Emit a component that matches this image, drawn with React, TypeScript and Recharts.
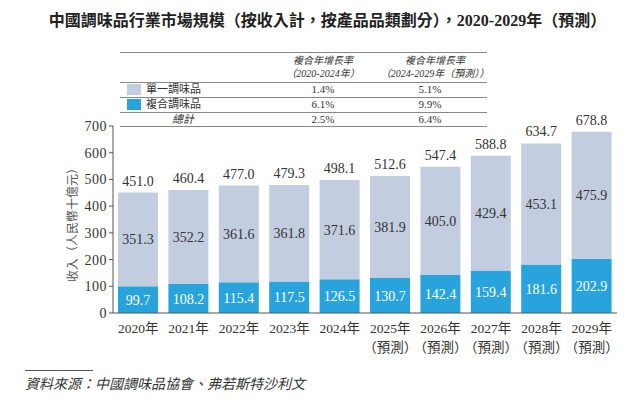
import React from 'react';
import { BarChart, Bar, XAxis, YAxis, LabelList } from 'recharts';

const years = ['2020年', '2021年', '2022年', '2023年', '2024年', '2025年', '2026年', '2027年', '2028年', '2029年'];
const forecast = [false, false, false, false, false, true, true, true, true, true];
const compound = [99.7, 108.2, 115.4, 117.5, 126.5, 130.7, 142.4, 159.4, 181.6, 202.9];
const single = [351.3, 352.2, 361.6, 361.8, 371.6, 381.9, 405.0, 429.4, 453.1, 475.9];
const totals = [451.0, 460.4, 477.0, 479.3, 498.1, 512.6, 547.4, 588.8, 634.7, 678.8];
const yTicks = [0, 100, 200, 300, 400, 500, 600, 700];

const tableRows = [
  { name: '單一調味品', a: '1.4%', b: '5.1%', color: '#c3cde0' },
  { name: '複合調味品', a: '6.1%', b: '9.9%', color: '#29a3dc' },
];
const totalRow = { name: '總計', a: '2.5%', b: '6.4%' };

const data = years.map((y, i) => ({
  year: y,
  forecast: forecast[i],
  compound: compound[i],
  single: single[i],
  total: totals[i],
}));

const SERIF = '"Liberation Serif", "Noto Sans CJK TC", serif';
const LIGHT = '#c3cde0';
const BLUE = '#29a3dc';

const XTick = (props: any) => {
  const { x, y, payload, index } = props;
  return (
    <g>
      <text x={x} y={y + 12} textAnchor="middle" fontSize={13.5} fill="#333" fontFamily={SERIF}>
        {payload.value}
      </text>
      {forecast[index] ? (
        <text x={x} y={y + 31} textAnchor="middle" fontSize={13.5} fill="#333" fontFamily={SERIF}>
          （預測）
        </text>
      ) : null}
    </g>
  );
};

const TotalLabel = (props: any) => {
  const { x, y, width, index } = props;
  return (
    <text x={x + width / 2} y={y - 7} textAnchor="middle" fontSize={14} fill="#333" fontFamily={SERIF}>
      {totals[index].toFixed(1)}
    </text>
  );
};

const CenterLabel = (color: string) => (props: any) => {
  const { x, y, width, height, value } = props;
  return (
    <text x={x + width / 2} y={y + height / 2 + 5} textAnchor="middle" fontSize={14} fill={color} fontFamily={SERIF}>
      {Number(value).toFixed(1)}
    </text>
  );
};

const lineStyle = (top: number): React.CSSProperties => ({
  position: 'absolute', left: 120, width: 367, top, height: 0, borderTop: '1px solid #888',
});

const cell: React.CSSProperties = { position: 'absolute', textAlign: 'center', fontSize: 11, color: '#333', lineHeight: '13px' };

export default function App() {
  return (
    <div style={{ position: 'absolute', left: 0, top: 0, width: 640, height: 398, background: '#fff', fontFamily: SERIF }}>
      <div style={{ position: 'absolute', left: 0, top: 7, width: 655, textAlign: 'center', fontSize: 16, fontWeight: 'bold', color: '#222', whiteSpace: 'nowrap' }}>
        中國調味品行業市場規模（按收入計，按產品品類劃分），2020-2029年（預測）
      </div>
      <div style={{ position: 'absolute', left: 0, top: 0 }}>
        <BarChart width={640} height={398} data={data} margin={{ top: 126, right: 23, bottom: 55, left: 73 }} barCategoryGap={5}>
          <XAxis dataKey="year" height={30} tick={<XTick />} tickLine={false} axisLine={{ stroke: '#555' }} interval={0} />
          <YAxis width={40} domain={[0, 700]} ticks={yTicks} tick={{ fontSize: 14, fill: '#333', fontFamily: SERIF, letterSpacing: 0.5 }} tickLine={{ stroke: '#555' }} tickSize={4} axisLine={{ stroke: '#555' }} />
          <Bar dataKey="compound" stackId="a" fill={BLUE} isAnimationActive={false}>
            <LabelList dataKey="compound" content={CenterLabel('#fff')} />
          </Bar>
          <Bar dataKey="single" stackId="a" fill={LIGHT} isAnimationActive={false}>
            <LabelList dataKey="single" content={CenterLabel('#333')} />
            <LabelList dataKey="total" content={<TotalLabel />} />
          </Bar>
        </BarChart>
      </div>
      <div style={{ position: 'absolute', left: 72, top: 222, transform: 'translate(-50%, -50%) rotate(-90deg)', fontSize: 12, color: '#555', whiteSpace: 'nowrap' }}>
        收入（人民幣十億元）
      </div>
      {/* table */}
      <div style={lineStyle(52)} />
      <div style={lineStyle(82)} />
      <div style={lineStyle(97)} />
      <div style={lineStyle(112)} />
      <div style={lineStyle(126)} />
      <div style={{ ...cell, left: 273, width: 100, top: 54, fontSize: 10, fontStyle: 'italic' }}>
        <div>複合年增長率</div>
        <div>（2020-2024年）</div>
      </div>
      <div style={{ ...cell, left: 370, width: 130, top: 54, fontSize: 10, fontStyle: 'italic', whiteSpace: 'nowrap' }}>
        <div>複合年增長率</div>
        <div>（2024-2029年（預測））</div>
      </div>
      {tableRows.map((r, i) => (
        <React.Fragment key={r.name}>
          <div style={{ position: 'absolute', left: 127, top: 84 + i * 15, width: 14, height: 11, background: r.color }} />
          <div style={{ ...cell, textAlign: 'left', left: 146, top: 83 + i * 15 }}>{r.name}</div>
          <div style={{ ...cell, left: 293, width: 60, top: 83 + i * 15 }}>{r.a}</div>
          <div style={{ ...cell, left: 400, width: 60, top: 83 + i * 15 }}>{r.b}</div>
        </React.Fragment>
      ))}
      <div style={{ ...cell, left: 163, width: 40, top: 113, fontStyle: 'italic' }}>{totalRow.name}</div>
      <div style={{ ...cell, left: 293, width: 60, top: 113 }}>{totalRow.a}</div>
      <div style={{ ...cell, left: 400, width: 60, top: 113 }}>{totalRow.b}</div>
      {/* source */}
      <div style={{ position: 'absolute', left: 25, top: 370, width: 68, borderTop: '1px solid #555' }} />
      <div style={{ position: 'absolute', left: 25, top: 373, fontSize: 14, fontStyle: 'italic', color: '#333', whiteSpace: 'nowrap' }}>
        資料來源：中國調味品協會、弗若斯特沙利文
      </div>
    </div>
  );
}
